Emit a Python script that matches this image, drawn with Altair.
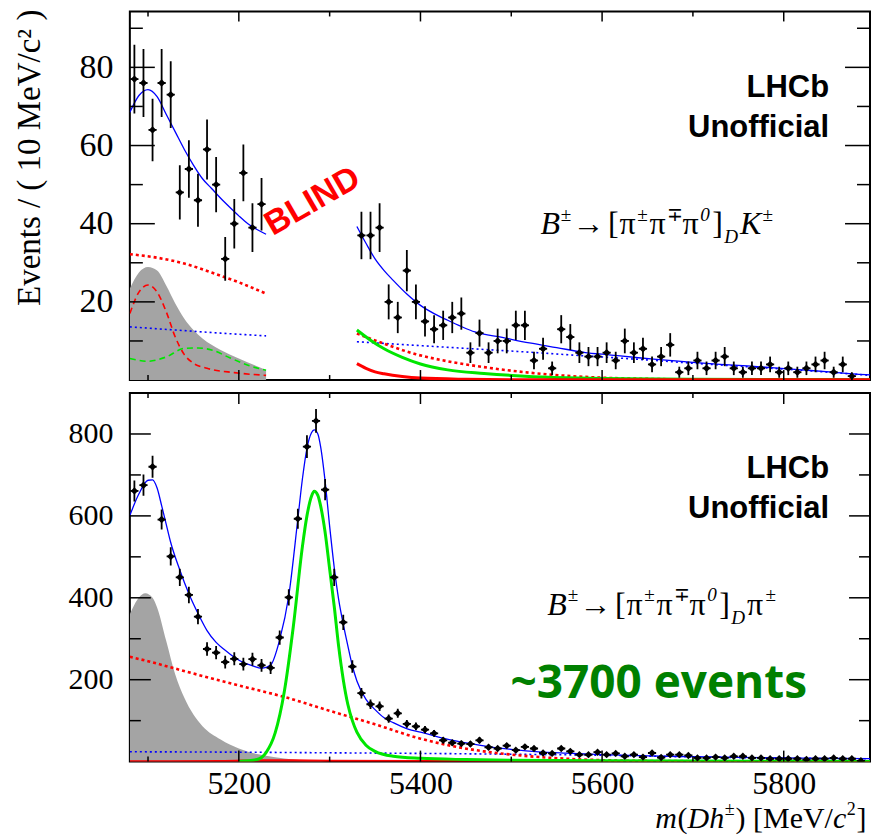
import altair as alt
import pandas as pd

X0, X1 = 5080, 5895
W, H = 741, 369
TOP_YMAX, BOT_YMAX = 94.3, 900

# ---------------- data: top panel (B -> D K), 10 MeV bins ----------------
top_m_left = [5085, 5095, 5105, 5115, 5125, 5135, 5145, 5155, 5165, 5175, 5185, 5195, 5205, 5215, 5225]
top_n_left = [77, 76, 64, 76, 73, 48, 54, 46, 59, 50, 31, 40, 53, 39, 45]
top_m_right = [5335, 5345, 5355, 5365, 5375, 5385, 5395, 5405, 5415, 5425, 5435, 5445, 5455, 5465, 5475,
               5485, 5495, 5505, 5515, 5525, 5535, 5545, 5555, 5565, 5575, 5585, 5595, 5605, 5615, 5625,
               5635, 5645, 5655, 5665, 5675, 5685, 5695, 5705, 5715, 5725, 5735, 5745, 5755, 5765, 5775,
               5785, 5795, 5805, 5815, 5825, 5835, 5845, 5855, 5865, 5875]
top_n_right = [37, 37, 39, 20, 16, 28, 20, 15, 13, 14, 16, 17, 7, 12, 7,
               10, 10, 14, 14, 5, 8, 3, 13, 11, 7, 6, 6, 7, 5, 10,
               7, 8, 4, 6, 9, 2, 3, 5, 3, 5, 6, 3, 2, 3, 3,
               4, 2, 3, 2, 3, 4, 5, 2, 4, 1]

# fit components, top panel (left and right sidebands)
t_blue_L_m = [5080, 5090, 5100, 5110, 5120, 5130, 5140, 5150, 5160, 5170, 5180, 5190, 5200, 5210, 5220, 5230]
t_blue_L_v = [68.5, 72.8, 74.3, 72.5, 68.0, 63.5, 59.0, 55.0, 51.5, 49.0, 46.5, 44.2, 42.0, 40.0, 38.5, 37.3]
t_blue_R_m = [5330, 5340, 5350, 5360, 5370, 5385, 5400, 5415, 5430, 5445, 5460, 5490, 5520, 5550, 5580,
              5610, 5640, 5670, 5700, 5730, 5760, 5790, 5820, 5850, 5880, 5895]
t_blue_R_v = [39.3, 35.0, 31.0, 28.0, 25.5, 22.0, 19.1, 17.0, 15.3, 13.7, 12.3, 10.9, 9.5, 8.3, 7.1,
              6.4, 5.7, 5.1, 4.5, 4.0, 3.6, 3.1, 2.6, 2.1, 1.5, 1.3]
t_bdot_L_m = [5080, 5130, 5180, 5230]
t_bdot_L_v = [13.6, 12.8, 12.0, 11.3]
t_bdot_R_m = [5330, 5400, 5450, 5515, 5580, 5640, 5700, 5760, 5820, 5895]
t_bdot_R_v = [9.8, 8.8, 8.1, 7.2, 6.2, 5.3, 4.3, 3.4, 2.5, 1.2]
t_rdot_L_m = [5080, 5110, 5140, 5170, 5200, 5230]
t_rdot_L_v = [32.2, 31.3, 29.8, 27.5, 25.0, 22.1]
t_rdot_R_m = [5330, 5360, 5395, 5430, 5470, 5515, 5560, 5600, 5650, 5700, 5800, 5895]
t_rdot_R_v = [11.9, 9.3, 6.6, 4.8, 3.3, 2.0, 1.1, 0.6, 0.3, 0.15, 0.1, 0.05]
t_rdash_L_m = [5080, 5090, 5100, 5110, 5120, 5130, 5140, 5150, 5165, 5195, 5230]
t_rdash_L_v = [17.0, 22.5, 24.3, 22.5, 17.5, 11.0, 6.5, 4.3, 3.0, 1.9, 1.2]
t_gdash_L_m = [5080, 5100, 5120, 5140, 5155, 5170, 5190, 5210, 5230]
t_gdash_L_v = [5.5, 4.8, 5.9, 8.1, 8.2, 7.7, 5.7, 3.8, 2.5]
t_grn_R_m = [5330, 5345, 5360, 5380, 5400, 5430, 5470, 5515, 5560, 5600, 5700, 5895]
t_grn_R_v = [12.8, 10.2, 8.0, 5.8, 4.1, 2.6, 1.7, 1.0, 0.6, 0.4, 0.2, 0.1]
t_red_R_m = [5330, 5340, 5350, 5360, 5380, 5400, 5450, 5500, 5895]
t_red_R_v = [4.2, 3.0, 2.1, 1.6, 0.9, 0.5, 0.2, 0.1, 0.05]
t_grey_L_m = [5080, 5090, 5100, 5110, 5120, 5130, 5140, 5150, 5160, 5180, 5200, 5230]
t_grey_L_v = [23.4, 27.5, 28.9, 28.0, 24.2, 19.6, 15.7, 12.8, 10.6, 7.7, 5.5, 2.6]

# ---------------- data: bottom panel (B -> D pi) ----------------
bot_m = [5085, 5095, 5105, 5115, 5125, 5135, 5145, 5155, 5165, 5175,
         5185, 5195, 5205, 5215, 5225, 5235, 5245, 5255, 5265, 5275,
         5285, 5295, 5305, 5315, 5325, 5335, 5345, 5355, 5365, 5375,
         5385, 5395, 5405, 5415, 5425, 5435, 5445, 5455, 5465, 5475,
         5485, 5495, 5505, 5515, 5525, 5535, 5545, 5555, 5565, 5575,
         5585, 5595, 5605, 5615, 5625, 5635, 5645, 5655, 5665, 5675,
         5685, 5695, 5705, 5715, 5725, 5735, 5745, 5755, 5765, 5775,
         5785, 5795, 5805, 5815, 5825, 5835, 5845, 5855, 5865, 5875, 5885]
bot_n = [661, 675, 720, 591, 501, 450, 407, 354, 275, 266,
         243, 251, 238, 250, 235, 229, 303, 401, 593, 769,
         832, 664, 450, 340, 232, 167, 140, 135, 105, 118,
         92, 86, 78, 69, 52, 46, 44, 43, 52, 35,
         32, 39, 28, 36, 32, 21, 20, 32, 25, 17,
         17, 23, 17, 20, 13, 17, 11, 21, 10, 17,
         17, 15, 9, 9, 11, 9, 13, 13, 9, 9,
         7, 7, 7, 7, 5, 7, 7, 9, 7, 7, 2]

b_blue_m = [5080, 5090, 5100, 5105, 5110, 5115, 5120, 5125, 5135, 5145, 5155, 5165, 5175, 5185, 5195,
            5205, 5215, 5225, 5235, 5245, 5255, 5265, 5270, 5275, 5280, 5283, 5287, 5290, 5295, 5300,
            5305, 5310, 5315, 5320, 5325, 5330, 5340, 5350, 5360, 5370, 5380, 5390, 5400, 5420, 5440,
            5460, 5480, 5500, 5530, 5560, 5600, 5650, 5700, 5750, 5800, 5850, 5895]
b_blue_v = [601, 654, 687, 688, 668, 625, 580, 535, 468, 410, 362, 320, 291, 272, 255,
            242, 234, 228, 236, 298, 405, 593, 690, 765, 803, 810, 800, 770, 685, 575,
            475, 395, 336, 283, 234, 197, 152, 127, 107, 95, 85, 77, 72, 60, 50,
            42, 35, 30, 24, 20.5, 17, 14, 12, 10.5, 9, 8, 7.3]
b_grn_m = [5200, 5220, 5230, 5240, 5250, 5260, 5270, 5275, 5280, 5283, 5287, 5290, 5295, 5300, 5305,
           5310, 5315, 5320, 5325, 5330, 5340, 5350, 5370, 5400, 5450, 5500, 5600, 5700, 5800, 5895]
b_grn_v = [0.5, 5, 22, 70, 170, 330, 525, 600, 648, 660, 650, 625, 560, 470, 380,
           280, 200, 140, 100, 72, 40, 25, 13, 8, 5, 3.5, 2, 1.2, 0.8, 0.5]
b_rdot_m = [5080, 5100, 5150, 5200, 5250, 5300, 5350, 5400, 5435, 5470, 5510, 5545, 5580, 5620, 5700, 5800, 5895]
b_rdot_v = [256, 245, 215, 186, 158, 124, 91, 56, 38, 25, 15, 9, 5, 2.5, 1, 0.4, 0.2]
b_bdot_m = [5080, 5200, 5300, 5400, 5500, 5600, 5700, 5800, 5895]
b_bdot_v = [24, 23, 21.5, 20, 18, 15.5, 11.5, 8.5, 6.8]
b_red_m = [5080, 5180, 5230, 5260, 5300, 5400, 5895]
b_red_v = [0.3, 0.8, 3.0, 2.5, 1.5, 1.0, 0.5]
b_grey_m = [5080, 5090, 5097, 5105, 5110, 5120, 5130, 5140, 5150, 5160, 5180, 5200, 5220, 5240, 5260, 5280, 5300]
b_grey_v = [360, 401, 411, 400, 376, 295, 213, 156, 115, 86.5, 54, 32, 18.6, 10.5, 5, 2, 0.5]

# axis ticks
x_major = [5200, 5400, 5600, 5800]
x_minor = [5100, 5300, 5500, 5700]
top_y_major = [20, 40, 60, 80]
top_y_minor = [10, 30, 50, 70, 90]
bot_y_major = [200, 400, 600, 800]
bot_y_minor = [100, 300, 500, 700]

SERIF = "Liberation Serif"
SANS = "Liberation Sans"
BLUE, RED, GREEN = "#0000ff", "#ff0000", "#00e600"


def panel(ymax, y_axis, x_axis):
    xs = alt.Scale(domain=[X0, X1], nice=False, zero=False)
    ys = alt.Scale(domain=[0, ymax], nice=False, zero=True)

    def X(f):
        return alt.X(f, type="quantitative", scale=xs, axis=x_axis)

    def Y(f):
        return alt.Y(f, type="quantitative", scale=ys, axis=y_axis)

    return X, Y


def curve(X, Y, ms, vs, color, width, dash=None):
    df = pd.DataFrame({"m": ms, "v": vs})
    kw = dict(color=color, strokeWidth=width, clip=True, interpolate="monotone")
    if dash is not None:
        kw["strokeDash"] = dash
    return alt.Chart(df).mark_line(**kw).encode(x=X("m"), y=Y("v"))


def area(X, Y, ms, vs):
    df = pd.DataFrame({"m": ms, "v": vs})
    return alt.Chart(df).mark_area(color="#a4a4a4", opacity=1, clip=True,
                                   interpolate="monotone").encode(x=X("m"), y=Y("v"))


def points(X, Y, ms, ns):
    df = pd.DataFrame({"m": ms, "n": ns})
    df["e"] = df["n"] ** 0.5
    df["lo"] = df["n"] - df["e"]
    df["hi"] = df["n"] + df["e"]
    df["ml"] = df["m"] - 4.5
    df["mh"] = df["m"] + 4.5
    b = alt.Chart(df)
    eb = b.mark_rule(color="black", strokeWidth=1.8, clip=True).encode(x=X("m"), y=Y("lo"), y2="hi")
    hb = b.mark_rule(color="black", strokeWidth=1.8, clip=True).encode(x=X("ml"), x2="mh", y=Y("n"))
    dot = b.mark_point(shape="diamond", filled=True, color="black", size=55, opacity=1,
                       clip=True).encode(x=X("m"), y=Y("n"))
    return [eb, hb, dot]


def ticks(X, Y, xmaj, xmin, ymaj, ymin, xlen_maj, xlen_min, ylen_maj, ylen_min):
    out = []
    for vals, ln in ((xmaj, xlen_maj), (xmin, xlen_min)):
        d = pd.DataFrame({"t": vals})
        out.append(alt.Chart(d).mark_rule(color="black", strokeWidth=1.5).encode(
            x=X("t"), y=alt.value(H), y2=alt.value(H - ln)))
        out.append(alt.Chart(d).mark_rule(color="black", strokeWidth=1.5).encode(
            x=X("t"), y=alt.value(0), y2=alt.value(ln)))
    for vals, ln in ((ymaj, ylen_maj), (ymin, ylen_min)):
        d = pd.DataFrame({"t": vals})
        out.append(alt.Chart(d).mark_rule(color="black", strokeWidth=1.5).encode(
            y=Y("t"), x=alt.value(0), x2=alt.value(ln)))
        out.append(alt.Chart(d).mark_rule(color="black", strokeWidth=1.5).encode(
            y=Y("t"), x=alt.value(W), x2=alt.value(W - ln)))
    return out


ONE = pd.DataFrame({"a": [0]})


def txt(text, x, y, size, font=SERIF, weight="normal", style="normal", color="black",
        align="left", angle=0):
    kw = dict(text=text, fontSize=size, font=font, fontWeight=weight, fontStyle=style,
              color=color, align=align, baseline="alphabetic")
    if angle:
        kw["angle"] = angle
    return alt.Chart(ONE).mark_text(**kw).encode(x=alt.value(x), y=alt.value(y))


def rich(x0, y0, base, pieces):
    """pieces: (text, relative size, italic, vertical shift in em, advance in em)"""
    out = []
    x = x0
    for t, rel, it, dy, adv in pieces:
        size = base * rel
        out.append(txt(t, x, y0 + dy * base, size, style="italic" if it else "normal"))
        x += adv * size
    return out


def decay(x0, y0, last, last_italic):
    sup = 0.6
    pieces = [("B", 1.0, True, 0.0, 0.64), ("±", sup, False, -0.42, 0.62),
              ("→", 1.0, False, 0.0, 1.1), ("[", 1.0, False, 0.0, 0.36),
              ("π", 1.0, False, 0.0, 0.56), ("±", sup, False, -0.42, 0.64),
              ("π", 1.0, False, 0.0, 0.56), ("∓", sup, False, -0.42, 0.78),
              ("π", 1.0, False, 0.0, 0.56), ("0", sup, True, -0.42, 0.62),
              ("]", 1.0, False, 0.0, 0.38), ("D", sup, True, 0.28, 0.82),
              (last, 1.0, last_italic, 0.0, 0.7 if last_italic else 0.58),
              ("±", sup, False, -0.42, 0.6)]
    return rich(x0, y0, 32, pieces)


def xtitle(x0, y0):
    sup = 0.6
    pieces = [("m", 1.0, True, 0.0, 0.74), ("(", 1.0, False, 0.0, 0.34),
              ("Dh", 1.0, True, 0.0, 1.24), ("±", sup, False, -0.42, 0.6),
              (") [MeV/", 1.0, False, 0.0, 3.25), ("c", 1.0, True, 0.0, 0.46),
              ("2", sup, False, -0.42, 0.55), ("]", 1.0, False, 0.0, 0.34)]
    return rich(x0, y0, 30, pieces)


def label_style(size):
    return dict(labelFont=SERIF, labelFontSize=size, labelColor="black", domain=False, ticks=False,
                grid=False)


# ---------------- top panel ----------------
tX, tY = panel(TOP_YMAX,
               alt.Axis(values=top_y_major, labelPadding=17, title="Events / ( 10 MeV/c² )",
                        titleFont=SERIF, titleFontSize=33, titleFontWeight="normal", titleColor="black",
                        titleAngle=270, titleAlign="center", titleBaseline="middle",
                        titleX=-100, titleY=146, **label_style(34)),
               None)

top_layers = [area(tX, tY, t_grey_L_m, t_grey_L_v),
              curve(tX, tY, t_gdash_L_m, t_gdash_L_v, GREEN, 1.6, [6, 4]),
              curve(tX, tY, t_rdash_L_m, t_rdash_L_v, RED, 1.6, [6, 4]),
              curve(tX, tY, t_bdot_L_m, t_bdot_L_v, BLUE, 1.6, [2, 3]),
              curve(tX, tY, t_bdot_R_m, t_bdot_R_v, BLUE, 1.6, [2, 3]),
              curve(tX, tY, t_rdot_L_m, t_rdot_L_v, RED, 2.6, [3, 3]),
              curve(tX, tY, t_rdot_R_m, t_rdot_R_v, RED, 2.6, [3, 3]),
              curve(tX, tY, t_grn_R_m, t_grn_R_v, GREEN, 3),
              curve(tX, tY, t_red_R_m, t_red_R_v, RED, 3),
              curve(tX, tY, t_blue_L_m, t_blue_L_v, BLUE, 1.3),
              curve(tX, tY, t_blue_R_m, t_blue_R_v, BLUE, 1.3)]
top_layers += points(tX, tY, top_m_left, top_n_left)
top_layers += points(tX, tY, top_m_right, top_n_right)
top_layers += ticks(tX, tY, x_major, x_minor, top_y_major, top_y_minor, 10, 5, 25, 13)
top_layers += [txt("LHCb", 700, 86, 31, font=SANS, weight="bold", align="right"),
               txt("Unofficial", 700, 126, 31, font=SANS, weight="bold", align="right"),
               txt("BLIND", 188, 199, 34, font=SANS, weight="bold", color=RED, align="center", angle=330)]
top_layers += decay(411, 223, "K", True)

top = alt.layer(*top_layers).properties(width=W, height=H)

# ---------------- bottom panel ----------------
bX, bY = panel(BOT_YMAX,
               alt.Axis(values=bot_y_major, labelPadding=17, title=None, **label_style(30)),
               alt.Axis(values=x_major, format="d", labelPadding=7, title=None, **label_style(32)))

bot_layers = [area(bX, bY, b_grey_m, b_grey_v),
              curve(bX, bY, b_bdot_m, b_bdot_v, BLUE, 1.6, [2, 3]),
              curve(bX, bY, b_rdot_m, b_rdot_v, RED, 2.6, [3, 3]),
              curve(bX, bY, b_red_m, b_red_v, RED, 2.5),
              curve(bX, bY, b_grn_m, b_grn_v, GREEN, 3),
              curve(bX, bY, b_blue_m, b_blue_v, BLUE, 1.3)]
bot_layers += points(bX, bY, bot_m, bot_n)
bot_layers += ticks(bX, bY, x_major, x_minor, bot_y_major, bot_y_minor, 11, 5, 21, 11)
bot_layers += [txt("LHCb", 700, 85, 31, font=SANS, weight="bold", align="right"),
               txt("Unofficial", 700, 125, 31, font=SANS, weight="bold", align="right"),
               txt("~3700 events", 381, 305, 46, font="Open Sans", weight="bold", color="#008000")]
bot_layers += decay(418, 222, "π", False)
bot_layers += xtitle(526, H + 66)

bot = alt.layer(*bot_layers).properties(width=W, height=H)

chart = (alt.vconcat(top, bot, spacing=9)
         .resolve_scale(y="independent")
         .properties(padding={"left": 13, "top": 7, "right": 0, "bottom": 0}, background="white")
         .configure_view(stroke="black", strokeWidth=2))

chart.save("out.html", embed_options={"renderer": "svg", "actions": False})
